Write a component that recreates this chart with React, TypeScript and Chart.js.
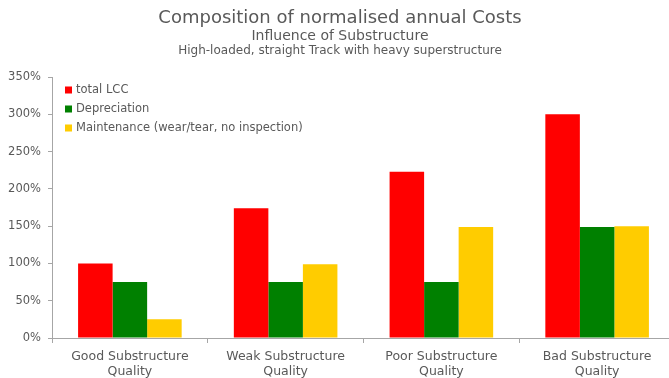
import React, { useEffect, useRef } from "react";
import { Chart, registerables } from "chart.js";

Chart.register(...registerables);

const categories: string[][] = [
  ["Good Substructure", "Quality"],
  ["Weak Substructure", "Quality"],
  ["Poor Substructure", "Quality"],
  ["Bad Substructure", "Quality"],
];
const seriesNames = ["total LCC", "Depreciation", "Maintenance (wear/tear, no inspection)"];
const totalLCC = [100, 174, 223, 300];
const depreciation = [75, 75, 75, 149];
const maintenance = [25, 99, 149, 150];
const seriesColors = ["#FF0000", "#008000", "#FFCC00"];
const yMin = 0;
const yMax = 350;
const yStep = 50;
const titleLines = [
  "Composition of normalised annual Costs",
  "Influence of Substructure",
  "High-loaded, straight Track with heavy superstructure",
];

const FONT = "'DejaVu Sans', sans-serif";
const TEXT = "#595959";
const AXIS = "#A6A6A6";

const titlePlugin = {
  id: "titleLines",
  afterDraw(chart: any) {
    const ctx = chart.ctx;
    ctx.save();
    ctx.fillStyle = TEXT;
    ctx.textAlign = "center";
    ctx.textBaseline = "alphabetic";
    const specs = [
      { size: 18, y: 23 },
      { size: 14, y: 39.5 },
      { size: 12, y: 54 },
    ];
    titleLines.forEach((t, i) => {
      ctx.font = `${specs[i].size}px ${FONT}`;
      ctx.fillText(t, 340, specs[i].y);
    });
    ctx.restore();
  },
};

const legendPlugin = {
  id: "insideLegend",
  afterDraw(chart: any) {
    const ctx = chart.ctx;
    ctx.save();
    ctx.font = `11.5px ${FONT}`;
    ctx.textBaseline = "middle";
    ctx.textAlign = "left";
    chart.data.datasets.forEach((ds: any, i: number) => {
      const cy = 90 + i * 19;
      ctx.fillStyle = ds.backgroundColor;
      ctx.fillRect(65, cy - 3.5, 7, 7);
      ctx.fillStyle = TEXT;
      ctx.fillText(ds.label, 76, cy + 0.5);
    });
    ctx.restore();
  },
};

export default function App() {
  const ref = useRef<HTMLCanvasElement>(null);
  useEffect(() => {
    if (!ref.current) return;
    const data = [totalLCC, depreciation, maintenance];
    const chart = new Chart(ref.current, {
      type: "bar",
      data: {
        labels: categories,
        datasets: seriesNames.map((n, i) => ({
          label: n,
          data: data[i],
          backgroundColor: seriesColors[i],
          borderWidth: 0,
          barPercentage: 1,
          categoryPercentage: 0.665,
        })),
      },
      options: {
        animation: false,
        responsive: false,
        devicePixelRatio: 1,
        layout: { padding: { top: 77, left: 0, right: 1, bottom: 0 } },
        plugins: {
          legend: { display: false },
          title: { display: false },
          tooltip: { enabled: false },
        },
        scales: {
          x: {
            grid: {
              offset: true,
              drawOnChartArea: false,
              tickLength: 5,
              color: AXIS,
            },
            border: { color: AXIS, width: 1 },
            ticks: {
              color: TEXT,
              font: { family: FONT, size: 12.5, lineHeight: 1.15 },
              padding: 7,
              maxRotation: 0,
              autoSkip: false,
            },
            afterFit(scale: any) {
              scale.height = 40;
            },
          },
          y: {
            min: yMin,
            max: yMax,
            grid: {
              drawOnChartArea: false,
              tickLength: 4,
              color: AXIS,
            },
            border: { color: AXIS, width: 1 },
            ticks: {
              stepSize: yStep,
              color: TEXT,
              font: { family: FONT, size: 11.5 },
              padding: 7,
              callback: (v: any) => `${v}%`,
            },
            afterFit(scale: any) {
              scale.width = 52;
            },
          },
        },
      },
      plugins: [titlePlugin, legendPlugin],
    });
    return () => chart.destroy();
  }, []);
  return (
    <div style={{ position: "fixed", left: 0, top: 0, width: 669, height: 378, overflow: "hidden", background: "#fff" }}>
      <canvas ref={ref} width={676} height={378} style={{ display: "block" }} />
    </div>
  );
}
